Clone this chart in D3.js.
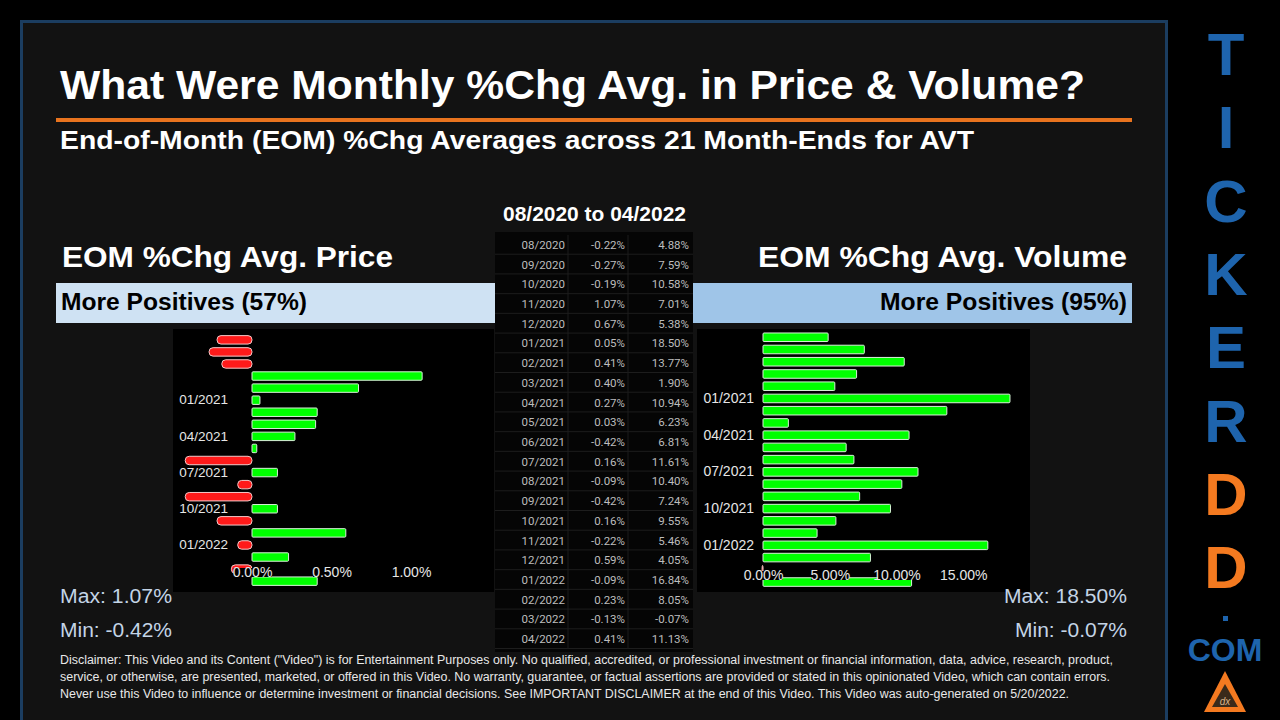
<!DOCTYPE html>
<html>
<head>
<meta charset="utf-8">
<script src="https://cdn.jsdelivr.net/npm/d3@7"></script>
<style>
  html, body { margin: 0; padding: 0; background: #000; }
  svg { display: block; }
</style>
</head>
<body>
<div id="chart"></div>
<script>
const months = ['08/2020', '09/2020', '10/2020', '11/2020', '12/2020', '01/2021', '02/2021', '03/2021',
  '04/2021', '05/2021', '06/2021', '07/2021', '08/2021', '09/2021', '10/2021', '11/2021', '12/2021',
  '01/2022', '02/2022', '03/2022', '04/2022'];
const priceChg = [-0.22, -0.27, -0.19, 1.07, 0.67, 0.05, 0.41, 0.40, 0.27, 0.03, -0.42, 0.16, -0.09,
  -0.42, 0.16, -0.22, 0.59, -0.09, 0.23, -0.13, 0.41];
const volumeChg = [4.88, 7.59, 10.58, 7.01, 5.38, 18.50, 13.77, 1.90, 10.94, 6.23, 6.81, 11.61, 10.40,
  7.24, 9.55, 5.46, 4.05, 16.84, 8.05, -0.07, 11.13];
const monthTicks = ['01/2021', '04/2021', '07/2021', '10/2021', '01/2022'];
const priceTicks = [0, 0.5, 1.0];
const volumeTicks = [0, 5, 10, 15];
const logoLetters = ['T', 'I', 'C', 'K', 'E', 'R', 'D', 'D'];

const W = 1280, H = 720;
const FONT = "'Liberation Sans', Arial, sans-serif";
const fmt = v => `${v.toFixed(2)}%`;

const svg = d3.select('#chart').append('svg')
  .attr('width', W).attr('height', H);

// the reference text is a bit wider than Liberation Sans, so stretch it to the measured widths
function label(x, y, txt, size, opts = {}) {
  const t = svg.append('text').attr('x', x).attr('y', y)
    .attr('fill', opts.fill || '#fff').attr('font-family', FONT)
    .attr('font-weight', opts.bold ? 'bold' : 'normal').attr('font-size', `${size}px`)
    .attr('text-anchor', opts.anchor || 'start')
    .text(txt);
  if (opts.len) t.attr('textLength', opts.len).attr('lengthAdjust', 'spacingAndGlyphs');
  return t;
}

// background + framed panel
svg.append('rect').attr('width', W).attr('height', H).attr('fill', '#000');
svg.append('rect')
  .attr('x', 21.5).attr('y', 21.5).attr('width', 1145).attr('height', 710)
  .attr('fill', '#121212').attr('stroke', '#1b3d60').attr('stroke-width', 3);

// Titles
label(60, 99, 'What Were Monthly %Chg Avg. in Price & Volume?', 40, { bold: true, len: 1025 });
svg.append('rect').attr('x', 56).attr('y', 118).attr('width', 1076).attr('height', 4).attr('fill', '#e8731e');
label(60, 149, `End-of-Month (EOM) %Chg Averages across ${months.length} Month-Ends for AVT`, 26, { bold: true, len: 914 });
label(503, 221, `${months[0]} to ${months[months.length - 1]}`, 20, { bold: true, len: 183 });

// Section headers
const posShare = arr => Math.round(100 * arr.filter(v => v > 0).length / arr.length);

label(62, 267, 'EOM %Chg Avg. Price', 30, { bold: true, len: 331 });
label(758, 267, 'EOM %Chg Avg. Volume', 30, { bold: true, len: 369 });

svg.append('rect').attr('x', 56).attr('y', 283).attr('width', 439).attr('height', 40).attr('fill', '#cfe2f3');
svg.append('rect').attr('x', 693).attr('y', 283).attr('width', 439).attr('height', 40).attr('fill', '#9fc5e8');
label(61, 310, `More Positives (${posShare(priceChg)}%)`, 23, { bold: true, fill: '#000', len: 246 });
label(880, 310, `More Positives (${posShare(volumeChg)}%)`, 23, { bold: true, fill: '#000', len: 247 });

// Center table
const tbl = svg.append('g');
const rowY = d3.scaleBand().domain(months).range([235, 649]);
tbl.append('rect').attr('x', 495).attr('y', 232).attr('width', 198).attr('height', 420).attr('fill', '#050505');
tbl.selectAll('line.h').data(months).enter().append('line')
  .attr('x1', 495).attr('x2', 693)
  .attr('y1', d => rowY(d) + rowY.bandwidth() - 0.5).attr('y2', d => rowY(d) + rowY.bandwidth() - 0.5)
  .attr('stroke', '#1d1d1d');
[568, 628].forEach(x => {
  tbl.append('line').attr('x1', x).attr('x2', x).attr('y1', 235).attr('y2', 649).attr('stroke', '#1d1d1d');
});
const rows = tbl.selectAll('g.row').data(months).enter().append('g')
  .attr('transform', d => `translate(0,${rowY(d) + rowY.bandwidth() / 2 + 4})`)
  .attr('font-family', "Roboto, 'Liberation Sans', sans-serif").attr('font-size', '11.5px').attr('fill', '#bdbdbd')
  .attr('text-anchor', 'end');
rows.append('text').attr('x', 565).text(d => d);
rows.append('text').attr('x', 625).text((d, i) => fmt(priceChg[i]));
rows.append('text').attr('x', 689).text((d, i) => fmt(volumeChg[i]));

// Bar charts
function barChart(cfg) {
  const g = svg.append('g');
  g.append('rect').attr('x', cfg.panel[0]).attr('y', 329).attr('width', cfg.panel[1] - cfg.panel[0]).attr('height', 263)
    .attr('fill', '#000');

  const x = d3.scaleLinear().domain(cfg.domain).range(cfg.range);
  const y = d3.scaleBand().domain(months).range(cfg.yRange).padding(0.3);
  const data = months.map((m, i) => ({ m, v: cfg.values[i] }));

  g.selectAll('rect.bar').data(data).enter().append('rect')
    .attr('class', 'bar')
    .attr('x', d => x(Math.min(0, d.v)))
    .attr('width', d => Math.max(1, Math.abs(x(d.v) - x(0))))
    .attr('y', d => y(d.m))
    .attr('height', y.bandwidth())
    .attr('rx', d => d.v < 0 ? 4 : 1)
    .attr('fill', d => d.v < 0 ? '#ff1a1a' : '#00ff00')
    .attr('stroke', d => d.v < 0 ? '#f3c9c9' : '#d8f0d8')
    .attr('stroke-width', 1);

  // month labels
  const yAxis = g.append('g').attr('transform', `translate(${cfg.labelX},0)`)
    .call(d3.axisLeft(y).tickValues(monthTicks).tickSize(0).tickPadding(0));
  yAxis.select('.domain').remove();
  yAxis.selectAll('text').attr('fill', '#e6e6e6').attr('font-family', FONT).attr('font-size', `${cfg.labelSize}px`);

  // value labels
  const xAxis = g.append('g').attr('transform', `translate(0,${cfg.tickY})`)
    .call(d3.axisBottom(x).tickValues(cfg.ticks).tickSize(0).tickPadding(0).tickFormat(fmt));
  xAxis.select('.domain').remove();
  xAxis.selectAll('text').attr('fill', '#e6e6e6').attr('font-family', FONT).attr('font-size', '14px');
  xAxis.selectAll('.tick').insert('rect', 'text')
    .attr('x', -19).attr('y', 1).attr('width', 38).attr('height', 9).attr('fill', '#000');
}

barChart({
  values: priceChg, domain: [-0.5, 1.5], range: [172.5, 490.5], panel: [173, 494],
  yRange: [332, 589], labelX: 228, tickY: 567, ticks: priceTicks, labelSize: 13.5
});
barChart({
  values: volumeChg, domain: [-5, 20], range: [696.25, 1030], panel: [697, 1030],
  yRange: [329.3, 590], labelX: 754, tickY: 570, ticks: volumeTicks, labelSize: 14
});

// Max / Min
const minMaxColor = '#c3d4e6';
label(60, 603, `Max: ${fmt(d3.max(priceChg))}`, 20, { fill: minMaxColor, len: 112 });
label(60, 637, `Min: ${fmt(d3.min(priceChg))}`, 20, { fill: minMaxColor, len: 112 });
label(1004, 603, `Max: ${fmt(d3.max(volumeChg))}`, 20, { fill: minMaxColor, len: 123 });
label(1015, 637, `Min: ${fmt(d3.min(volumeChg))}`, 20, { fill: minMaxColor, len: 112 });

// Disclaimer
const disclaimer = [
  'Disclaimer: This Video and its Content ("Video") is for Entertainment Purposes only. No qualified, accredited, or professional investment or financial information, data, advice, research, product,',
  'service, or otherwise, are presented, marketed, or offered in this Video. No warranty, guarantee, or factual assertions are provided or stated in this opinionated Video, which can contain errors.',
  'Never use this Video to influence or determine investment or financial decisions. See IMPORTANT DISCLAIMER at the end of this Video. This Video was auto-generated on 5/20/2022.'
];
const disclaimerLen = [1053, 1050, 1009];
disclaimer.forEach((d, i) => label(60, 664 + i * 17, d, 12, { fill: '#e8e8e8', len: disclaimerLen[i] }));

// Logo column
const logo = svg.append('g').attr('font-family', FONT).attr('font-weight', 'bold').attr('text-anchor', 'middle');
logo.selectAll('text.l').data(logoLetters).enter().append('text')
  .attr('x', 1226).attr('y', (d, i) => 75 + i * 73.3)
  .attr('font-size', '60px')
  .attr('fill', (d, i) => i >= 6 ? '#f47a20' : '#1e64ad')
  .text(d => d);
logo.append('rect').attr('x', 1223).attr('y', 616).attr('width', 5).attr('height', 5).attr('fill', '#1e64ad');
logo.append('text').attr('x', 1225).attr('y', 661).attr('font-size', '32px').attr('fill', '#1e64ad').text('COM');
logo.append('path').attr('d', 'M1225,671 L1246,712 L1204,712 Z').attr('fill', '#f47a20');
logo.append('path').attr('d', 'M1225,684 L1238,707 L1212,707 Z').attr('fill', '#3a2a1a');
logo.append('text').attr('x', 1225).attr('y', 705).attr('font-size', '10px').attr('font-weight', 'normal')
  .attr('fill', '#d9b48a').attr('font-style', 'italic').text('dx');
</script>
</body>
</html>
